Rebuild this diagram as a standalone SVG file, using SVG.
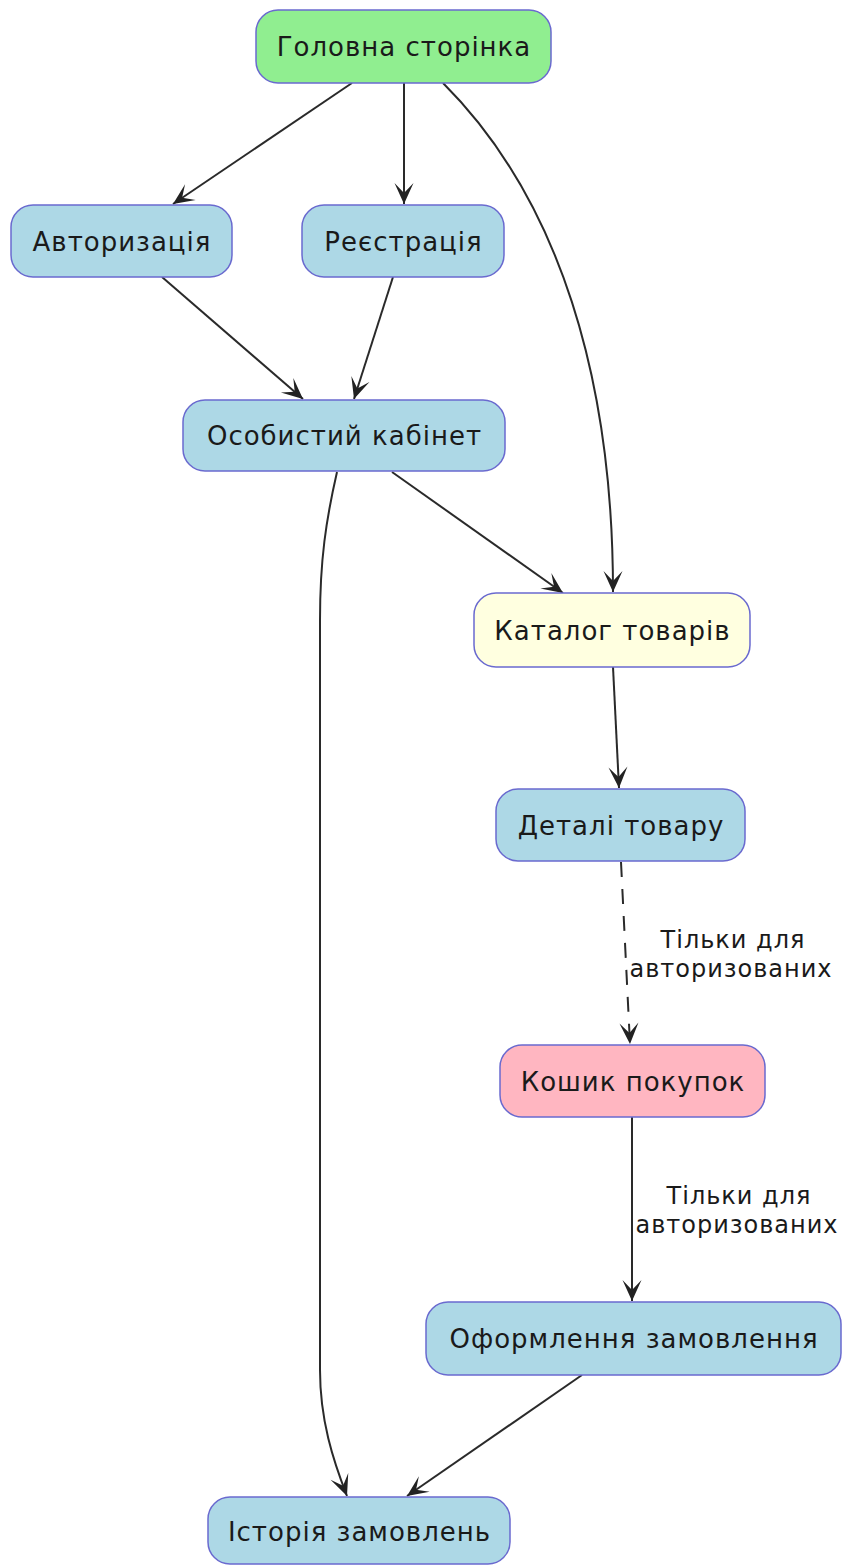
<svg xmlns="http://www.w3.org/2000/svg" width="845" height="1566" viewBox="0 0 845 1566">
<style>
.n{stroke:#6a6acf;stroke-width:1.5}
.t{font-family:"DejaVu Sans",sans-serif;font-size:26px;letter-spacing:1px;fill:#1a1a1a;text-anchor:middle}
.l{font-family:"DejaVu Sans",sans-serif;font-size:24px;letter-spacing:1px;fill:#1a1a1a;text-anchor:middle}
.e{fill:none;stroke:#2a2a2a;stroke-width:2;marker-end:url(#ah)}
.d{stroke-dasharray:15 12}
</style>
<defs>
<marker id="ah" markerUnits="userSpaceOnUse" viewBox="-23 -11 24 22" refX="0" refY="0" markerWidth="24" markerHeight="22" orient="auto">
<path d="M0,0 L-21,-9.5 L-11,0 L-21,9.5 Z" fill="#222"/>
</marker>
</defs>
<rect width="845" height="1566" fill="#fff"/>
<g id="edges">
<path class="e" d="M352,83 L173,204"/>
<path class="e" d="M404,83 L404,204"/>
<path class="e" d="M443,83 C560,200 613,380 613,592"/>
<path class="e" d="M162,277 L303,399"/>
<path class="e" d="M393,277 L354,399"/>
<path class="e" d="M392,472 L563,593"/>
<path class="e" d="M337,472 C326,520 320,560 320,620 L320,1370 C320,1420 333,1460 347,1496"/>
<path class="e" d="M613,667 L619,788"/>
<path class="e d" d="M621,862 L630,1044"/>
<path class="e" d="M632,1117 L632,1301"/>
<path class="e" d="M582,1375 L407,1496"/>
</g>
<g id="edge-labels">
<text class="l" x="733" y="948">Тільки для</text>
<text class="l" x="731" y="977">авторизованих</text>
<text class="l" x="739" y="1204">Тільки для</text>
<text class="l" x="737" y="1233">авторизованих</text>
</g>
<g id="home"><rect class="n" x="256" y="10" width="295" height="73" rx="22" fill="#90ee90"/><text class="t" x="404" y="56">Головна сторінка</text></g>
<g id="auth"><rect class="n" x="11" y="205" width="221" height="72" rx="22" fill="#add8e6"/><text class="t" x="122" y="251">Авторизація</text></g>
<g id="reg"><rect class="n" x="302" y="205" width="202" height="72" rx="22" fill="#add8e6"/><text class="t" x="403.5" y="251">Реєстрація</text></g>
<g id="cabinet"><rect class="n" x="183" y="400" width="322" height="71" rx="22" fill="#add8e6"/><text class="t" x="344.5" y="445">Особистий кабінет</text></g>
<g id="catalog"><rect class="n" x="474" y="593" width="276" height="74" rx="22" fill="#ffffe0"/><text class="t" x="612.5" y="640">Каталог товарів</text></g>
<g id="details"><rect class="n" x="496" y="789" width="249" height="72" rx="22" fill="#add8e6"/><text class="t" x="621" y="835">Деталі товару</text></g>
<g id="cart"><rect class="n" x="500" y="1045" width="265" height="72" rx="22" fill="#ffb6c1"/><text class="t" x="633" y="1091">Кошик покупок</text></g>
<g id="checkout"><rect class="n" x="426" y="1302" width="415" height="73" rx="22" fill="#add8e6"/><text class="t" x="634" y="1348">Оформлення замовлення</text></g>
<g id="history"><rect class="n" x="208" y="1497" width="302" height="67" rx="22" fill="#add8e6"/><text class="t" x="359.5" y="1541">Історія замовлень</text></g>
</svg>
